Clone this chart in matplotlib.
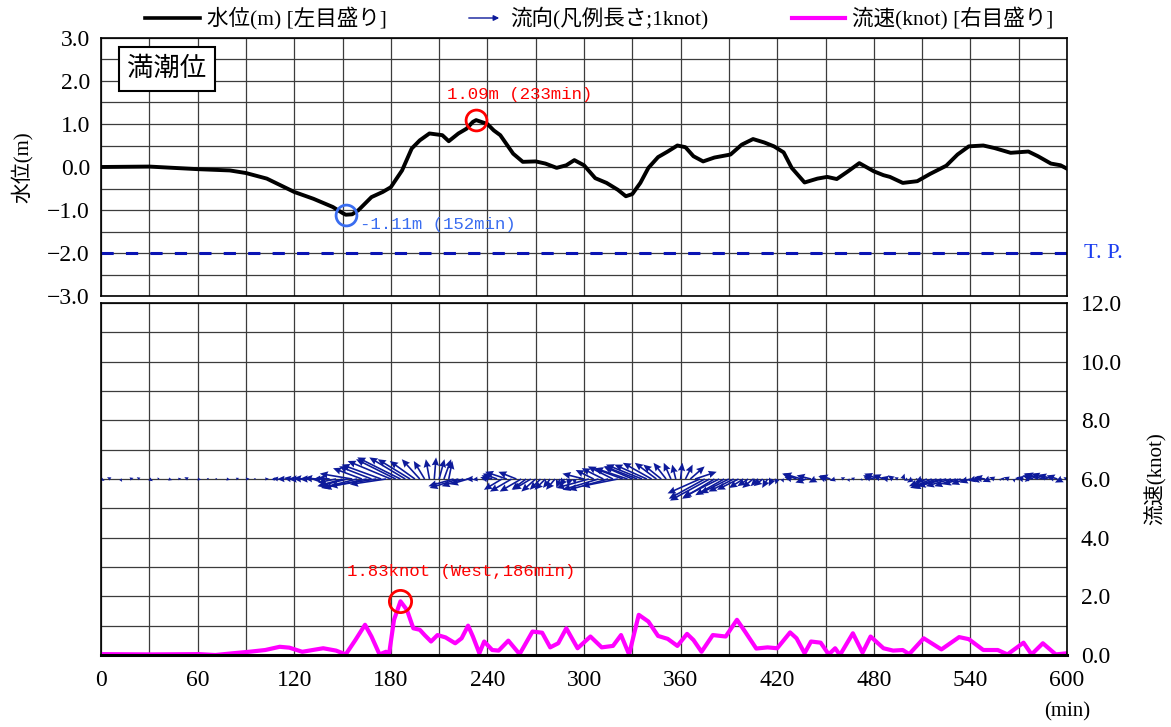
import numpy as np
import matplotlib
matplotlib.use("Agg")
import matplotlib.pyplot as plt
from matplotlib.lines import Line2D

plt.rcParams['font.family'] = ['Liberation Serif', 'Noto Sans CJK JP', 'DejaVu Sans']
JP = ['Noto Sans CJK JP', 'DejaVu Sans']
MIX = ['Liberation Serif'] + JP
MONO = ['Liberation Mono', 'DejaVu Sans Mono']

# water level (m)
level_t = [0, 30, 60, 80, 90, 103, 120, 132, 144, 150, 152, 156, 160, 168, 175, 180,
           187, 193, 198, 204, 212, 216, 222, 227, 231, 233, 240, 244, 248, 256, 262,
           270, 276, 283, 289, 294, 300, 307, 314, 321, 326, 330, 335, 340, 346, 352,
           358, 363, 368, 374, 381, 391, 398, 405, 412, 418, 424, 429, 437, 445, 451,
           457, 464, 471, 480, 486, 490, 498, 507, 515, 525, 532, 539, 548, 555, 565,
           576, 582, 590, 596, 600]
level_m = [0.0, 0.01, -0.05, -0.08, -0.14, -0.27, -0.58, -0.74, -0.93, -1.07, -1.11, -1.10,
           -1.0, -0.7, -0.58, -0.47, -0.08, 0.43, 0.62, 0.78, 0.74, 0.60, 0.78, 0.89, 1.05,
           1.09, 1.0, 0.85, 0.74, 0.31, 0.12, 0.13, 0.08, -0.02, 0.04, 0.16, 0.04, -0.26,
           -0.37, -0.53, -0.68, -0.63, -0.37, -0.02, 0.23, 0.36, 0.50, 0.46, 0.25, 0.13,
           0.22, 0.29, 0.52, 0.65, 0.57, 0.48, 0.34, -0.02, -0.36, -0.27, -0.23, -0.28,
           -0.10, 0.09, -0.10, -0.19, -0.23, -0.37, -0.33, -0.16, 0.03, 0.29, 0.48, 0.50,
           0.44, 0.33, 0.36, 0.25, 0.08, 0.04, -0.04]

# current speed (knot)
speed_t = [0, 30, 61, 71, 82, 92, 102, 111, 117, 125, 138, 146, 152, 158, 164, 168, 173,
           177, 179, 182, 186, 190, 194, 198, 201, 205, 209, 214, 220, 224, 228, 231, 235,
           238, 243, 247, 253, 260, 268, 274, 279, 284, 289, 296, 304, 311, 318, 323, 328,
           334, 340, 346, 352, 358, 364, 368, 373, 380, 388, 395, 400, 407, 414, 420, 428,
           432, 437, 441, 447, 452, 456, 459, 467, 473, 478, 486, 492, 498, 502, 511, 522,
           533, 539, 548, 557, 563, 573, 578, 585, 593, 600]
speed_kn = [0.03, 0.02, 0.03, 0.0, 0.06, 0.11, 0.17, 0.28, 0.25, 0.11, 0.23, 0.15, 0.02,
            0.51, 1.03, 0.63, 0.02, 0.11, 0.06, 1.2, 1.83, 1.54, 0.91, 0.86, 0.68, 0.46,
            0.68, 0.60, 0.40, 0.57, 1.0, 0.63, 0.06, 0.46, 0.17, 0.15, 0.49, 0.03, 0.80,
            0.76, 0.26, 0.40, 0.91, 0.23, 0.63, 0.26, 0.31, 0.68, 0.02, 1.37, 1.14, 0.65,
            0.55, 0.31, 0.72, 0.51, 0.11, 0.68, 0.63, 1.2, 0.80, 0.22, 0.26, 0.23, 0.77,
            0.57, 0.06, 0.46, 0.42, 0.02, 0.23, 0.0, 0.74, 0.08, 0.63, 0.23, 0.15, 0.17,
            0.03, 0.57, 0.19, 0.61, 0.54, 0.17, 0.17, 0.02, 0.42, 0.02, 0.40, 0.02, 0.06]

# current direction arrows (east / north components, knot)
arrow_t = [0, 6, 12, 18, 24, 30, 36, 42, 48, 54, 60, 66, 72, 78, 84, 90, 96, 102, 108,
           110, 114, 118, 122, 126, 130, 134, 138, 142, 146, 150, 153, 156, 159, 162, 165,
           168, 171, 174, 177, 180, 183, 186, 189, 192, 195, 198, 201, 204, 207, 210, 213,
           216, 219, 222, 225, 228, 231, 234, 237, 240, 243, 246, 249, 252, 255, 258, 261,
           264, 267, 270, 273, 276, 279, 282, 285, 288, 291, 294, 297, 300, 303, 306, 309,
           312, 315, 318, 321, 324, 327, 330, 333, 336, 339, 342, 345, 348, 351, 354, 357,
           360, 363, 366, 369, 372, 375, 378, 381, 384, 387, 390, 393, 396, 399, 402, 405,
           408, 411, 414, 417, 420, 423, 426, 429, 432, 435, 438, 441, 444, 447, 450, 453,
           456, 460, 464, 468, 472, 476, 480, 483, 486, 489, 492, 495, 498, 501, 504, 507,
           510, 513, 516, 519, 522, 525, 528, 531, 534, 537, 540, 543, 546, 549, 552, 555,
           558, 561, 564, 567, 570, 573, 576, 579, 582, 585, 588, 591, 594, 597, 600]
arrow_u = [0.1, -0.1, 0.05, 0.1, -0.08, 0.1, -0.05, 0.1, 0.08, -0.1, 0.1, 0.05, -0.05,
           0.1, 0.08, 0.1, -0.05, 0.1, -0.1,
           -0.15, -0.2, -0.2, -0.25, -0.3, -0.3, -0.35, -0.3, -0.35, -0.5, -0.7, -0.8,
           -0.9, -1.0, -0.8, -1.2, -0.9, -1.3, -1.1, -1.0, -1.2, -1.1, -1.2, -1.0, -0.9,
           -0.7, -0.5, -0.3, -0.1, 0.05, 0.15, 0.2, 0.1, -0.7, -0.8, -0.6, -0.5, -0.2,
           -0.15, 0.1, -0.2, -0.3, -0.4, -0.5, -0.6, -0.6, -0.5, -0.6, -0.4, -0.5, -0.4,
           -0.3, -0.3, -0.2, -0.25, -0.1, -0.15, -0.05, 0.02, 0.05, -0.6, -0.9, -0.5,
           -1.0, -0.6, -1.1, -0.7, -1.0, -0.8, -0.9, -0.8, -0.9, -1.0, -0.9, -0.8, -0.6,
           -0.5, -0.35, -0.2, -0.1, 0.05, 0.2, 0.4, 0.6, -0.9, -1.0, -1.1, -0.9, -1.0,
           -0.8, -0.8, -0.7, -0.6, -0.4, -0.3, -0.3, -0.2, -0.25, -0.15, -0.1, -0.05,
           0.05, 0.1, -0.2, -0.4, -0.5, -0.3, -0.4, -0.2, 0.05, -0.2, -0.3, -0.15, 0.1,
           0.05, -0.1, 0.05, -0.1, -0.3, -0.4, -0.3, -0.2, -0.15, -0.1, 0.05, -0.1, -0.15,
           -0.05, -0.2, -0.5, -0.6, -0.7, -0.8, -0.8, -0.7, -0.6, -0.5, -0.4, -0.3, -0.2,
           -0.25, -0.3, -0.2, -0.15, 0.05, -0.1, -0.15, 0.02, -0.1, -0.2, -0.1, -0.3,
           -0.4, -0.5, -0.45, -0.4, -0.3, -0.2, -0.1]
arrow_v = [-0.05, 0.05, -0.08, 0.03, 0.05, -0.06, 0.04, -0.03, 0.02, 0.05, -0.02, 0.03,
           0.02, -0.02, 0.03, 0.01, 0.02, 0.01, -0.02,
           0.02, 0.0, 0.03, 0.0, 0.02, 0.0, 0.03, -0.02, 0.03, -0.1, -0.2, -0.2, 0.15,
           -0.25, 0.3, -0.25, 0.35, -0.2, 0.4, -0.15, 0.5, 0.55, 0.6, 0.6, 0.55, 0.5,
           0.55, 0.5, 0.55, 0.6, 0.55, 0.55, 0.5, -0.2, -0.25, -0.2, -0.15, 0.0, -0.02,
           0.02, 0.05, 0.1, 0.15, -0.3, 0.2, -0.35, 0.2, -0.35, -0.3, -0.3, -0.35, -0.3,
           -0.3, -0.25, -0.3, -0.25, -0.2, -0.2, -0.15, 0.05, 0.15, -0.25, 0.25, -0.3,
           0.3, -0.3, 0.35, -0.2, 0.3, 0.3, 0.35, 0.35, 0.4, 0.4, 0.45, 0.45, 0.4, 0.45,
           0.45, 0.4, 0.45, 0.4, 0.35, 0.2, -0.4, -0.55, -0.6, -0.55, -0.5, -0.45, -0.4,
           -0.35, -0.3, -0.25, -0.2, -0.25, -0.2, -0.2, -0.25, -0.2, -0.15, -0.1, 0.05,
           0.05, 0.15, 0.15, -0.1, 0.1, -0.1, 0.05, 0.08, 0.1, -0.05, 0.05, -0.08, 0.03,
           -0.05, 0.05, 0.1, 0.15, 0.12, 0.05, 0.1, 0.05, 0.15, -0.05, -0.1, 0.02, -0.1,
           -0.2, -0.25, -0.25, -0.25, -0.2, -0.2, -0.2, -0.15, -0.15, -0.1, -0.05, -0.05,
           0.05, -0.08, 0.05, -0.05, 0.02, 0.05, -0.1, 0.03, 0.05, -0.08, 0.1, 0.15, 0.15,
           0.15, 0.12, 0.1, -0.1, 0.05]

hw_t, hw_m = 233, 1.09
lw_t, lw_m = 152, -1.11
max_t, max_kn = 186, 1.83
tp_level = -2.0
arrow_base = 6.0


def fmt(v):
    return ('%.1f' % v).replace('-', '\u2212')


fig = plt.figure(figsize=(11.71, 7.27), dpi=100)
left, width = 101 / 1171, 966 / 1171
ax1 = fig.add_axes([left, 1 - 296 / 727, width, 258 / 727])
ax2 = fig.add_axes([left, 1 - 655 / 727, width, 352 / 727])

for ax in (ax1, ax2):
    ax.set_xlim(0, 600)
    ax.set_xticks(np.arange(0, 601, 60))
    ax.set_xticks(np.arange(0, 601, 30), minor=True)
    ax.grid(which='both', color='#3c3c3c', lw=0.9)
    ax.set_axisbelow(True)
    ax.tick_params(which='both', direction='in', length=0, labelsize=17)
    for s in ax.spines.values():
        s.set_color('black')
        s.set_linewidth(1.2)

# top panel: water level
ax1.set_ylim(-3, 3)
ax1.set_yticks(np.arange(-3, 3.1, 1))
ax1.set_yticks(np.arange(-3, 3.1, 0.5), minor=True)
ax1.set_yticklabels([fmt(v) for v in np.arange(-3, 3.1, 1)])
ax1.tick_params(axis='x', labelbottom=False)
ax1.tick_params(axis='y', pad=8)
ax1.axhline(tp_level, color='#0a14b4', lw=2.2, ls=(0, (4, 4)))
ax1.plot(level_t, level_m, color='black', lw=2.8, solid_joinstyle='round')
ax1.plot([hw_t], [hw_m], 'o', ms=15, mfc='none', mec='red', mew=2)
ax1.plot([lw_t], [lw_m], 'o', ms=15, mfc='none', mec='#3a6df0', mew=2)
ax1.text(hw_t - 18, hw_m + 0.6, '%.2fm (%dmin)' % (hw_m, hw_t), color='red',
         ha='left', va='center', fontsize=12.5, family=MONO)
ax1.text(lw_t + 9, lw_m - 0.22, '%.2fm (%dmin)' % (lw_m, lw_t), color='#3a6df0',
         ha='left', va='center', fontsize=12.5, family=MONO)
ax1.text(1.018, (tp_level + 3) / 6, 'T. P.', transform=ax1.transAxes, color='#1a3cf0',
         ha='left', va='center', fontsize=16)
ax1.text(0.027, 0.88, '満潮位', transform=ax1.transAxes, fontsize=19, family=JP,
         ha='left', va='center',
         bbox=dict(boxstyle='square,pad=0.32', fc='white', ec='black', lw=1.5))
ax1.set_ylabel('水位(m)', fontsize=15, family=MIX, labelpad=10)

# bottom panel: current
ax2.set_ylim(0, 12)
ax2.set_yticks(np.arange(0, 12.1, 2))
ax2.set_yticks(np.arange(0, 12.1, 1), minor=True)
ax2.set_yticklabels([fmt(v) for v in np.arange(0, 12.1, 2)])
ax2.yaxis.tick_right()
ax2.yaxis.set_label_position('right')
ax2.tick_params(axis='y', pad=10)
ax2.tick_params(axis='x', pad=11)
ax2.spines['bottom'].set_linewidth(2.2)
ax2.quiver(arrow_t, np.full(len(arrow_t), arrow_base), arrow_u, arrow_v,
           angles='uv', scale_units='inches', scale=1 / 0.36, width=0.0017,
           headwidth=4.5, headlength=5, headaxislength=4.5, color='#0d1a9a')
ax2.plot(speed_t, speed_kn, color='#ff00ff', lw=3, solid_joinstyle='round')
ax2.plot([max_t], [max_kn], 'o', ms=16, mfc='none', mec='red', mew=2)
ax2.text(max_t - 33, max_kn + 1.0, '%.2fknot (West,%dmin)' % (max_kn, max_t),
         color='red', ha='left', va='center', fontsize=12.5, family=MONO)
ax2.set_ylabel('流速(knot)', fontsize=15, family=MIX, labelpad=16)
fig.text(1067 / 1171, 1 - 712 / 727, '(min)', ha='center', va='center', fontsize=15)

# legend row
ly = 1 - 18 / 727
fig.add_artist(Line2D([145 / 1171, 200 / 1171], [ly, ly], color='black', lw=2.6))
fig.text(207 / 1171, ly, '水位(m) [左目盛り]', va='center', fontsize=15.5, family=MIX)
fig.add_artist(Line2D([792 / 1171, 845 / 1171], [ly, ly], color='#ff00ff', lw=3))
fig.text(852 / 1171, ly, '流速(knot) [右目盛り]', va='center', fontsize=15.5, family=MIX)
ax2.annotate('', xy=(502, 727 - 18), xytext=(466, 727 - 18), xycoords='figure pixels',
             textcoords='figure pixels',
             arrowprops=dict(arrowstyle='-|>', color='#0d1a9a', lw=1, mutation_scale=8))
fig.text(510 / 1171, ly, '流向(凡例長さ;1knot)', va='center', fontsize=15.5, family=MIX)

fig.savefig('out.png', dpi=100)
